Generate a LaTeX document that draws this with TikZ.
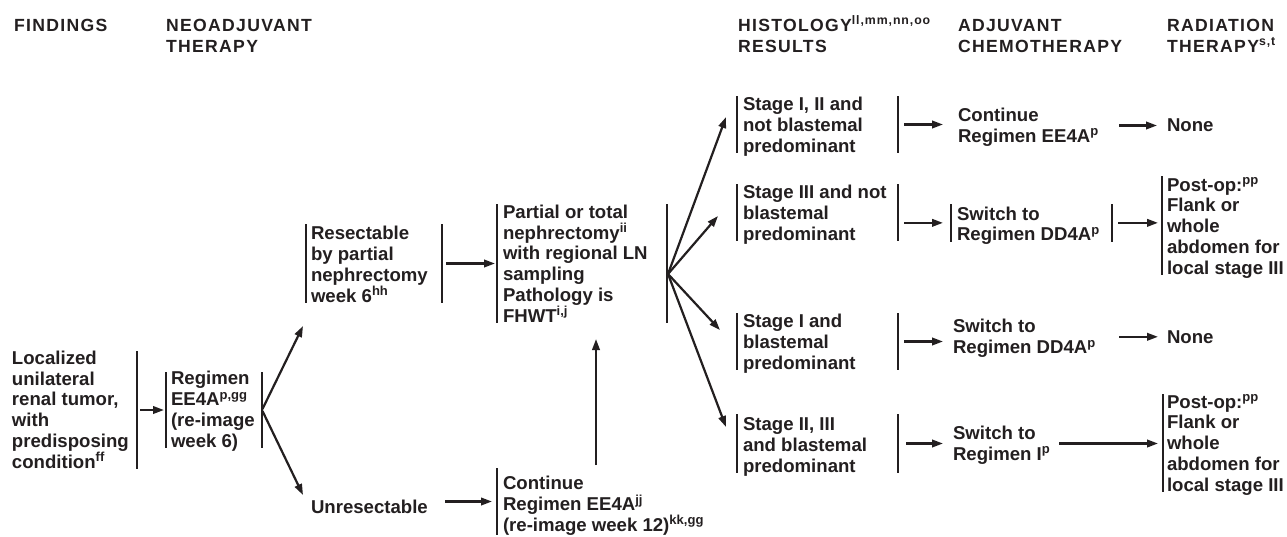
\documentclass[tikz,border=0pt]{standalone}
\usepackage{fontspec}
\setmainfont{Liberation Sans}
\usetikzlibrary{arrows.meta}
\definecolor{ink}{HTML}{231F20}
\newcommand{\bodyfont}{\fontsize{18.6}{20.7}\selectfont\bfseries}
\newcommand{\hdrfont}{\fontsize{17.6}{21}\selectfont\bfseries\addfontfeatures{LetterSpace=7.5}}
\newcommand{\spb}[1]{\textsuperscript{\smash{#1}}}
% gap, width, height above last baseline, depth, lines
\newcommand{\tbx}[5]{\makebox[#2pt][l]{\hspace*{#1pt}\raisebox{0pt}[#3pt][#4pt]{\begin{tabular}[b]{@{}l@{}}#5\end{tabular}}}}
\tikzset{
  bx/.style={inner sep=0pt, outer sep=0pt, anchor=south west, text=ink, font=\bodyfont},
  hd/.style={inner sep=0pt, outer sep=0pt, anchor=south west, text=ink, font=\hdrfont},
  bar/.style={draw=ink, line width=2.3pt},
  arr/.style={draw=ink, line width=2.2pt, -{Triangle[length=11pt,width=7.5pt]}}
}
\begin{document}
\begin{tikzpicture}[x=1pt,y=-1pt]
\useasboundingbox[fill=white] (0,0) rectangle (1287,536);
% headers
\node[hd] (hF) at (14,31) {\tbx{0}{140}{12.6}{0}{FINDINGS}};
\node[hd] (hN) at (166,52) {\tbx{0}{170}{33.6}{0}{NEOADJUVANT\\THERAPY}};
\node[hd] (hH) at (738,52) {\tbx{0}{210}{33.6}{0}{HISTOLOGY\spb{ll,mm,nn,oo}\\RESULTS}};
\node[hd] (hA) at (958,52) {\tbx{0}{190}{33.6}{0}{ADJUVANT\\CHEMOTHERAPY}};
\node[hd] (hR) at (1167,52) {\tbx{0}{120}{33.6}{0}{RADIATION\\THERAPY\spb{s,t}}};
% boxes
\node[bx] (loc) at (12,469) {\tbx{0}{125}{117}{1}{Localized\\unilateral\\renal tumor,\\with\\predisposing\\condition\spb{ff}}};
\node[bx] (reg) at (166,448) {\tbx{5}{96}{75}{1}{Regimen\\EE4A\spb{p,gg}\\(re-image\\week 6)}};
\node[bx] (res) at (306,303) {\tbx{5}{136}{78}{1}{Resectable\\by partial\\nephrectomy\\week 6\spb{hh}}};
\node[bx] (unres) at (311,513) {\tbx{0}{117}{13.3}{0}{Unresectable}};
\node[bx] (part) at (497,323) {\tbx{6}{170}{118}{1}{Partial or total\\nephrectomy\spb{ii}\\with regional LN\\sampling\\Pathology is\\FHWT\spb{i,j}}};
\node[bx] (cont) at (497,535) {\tbx{6}{216}{63}{4}{Continue\\Regimen EE4A\spb{jj}\\(re-image week 12)\spb{kk,gg}}};
\node[bx] (h1) at (737,153) {\tbx{6}{161}{56}{1}{Stage I, II and\\not blastemal\\predominant}};
\node[bx] (h2) at (737,241) {\tbx{6}{161}{56}{1}{Stage III and not\\blastemal\\predominant}};
\node[bx] (h3) at (737,370) {\tbx{6}{161}{56}{1}{Stage I and\\blastemal\\predominant}};
\node[bx] (h4) at (737,473) {\tbx{6}{161}{58}{1}{Stage II, III\\and blastemal\\predominant}};
\node[bx] (a1) at (951,143) {\tbx{7}{161}{34}{1}{Continue\\Regimen EE4A\spb{p}}};
\node[bx] (a2) at (951,241.7) {\tbx{6}{161}{36.7}{1}{Switch to\\Regimen DD4A\spb{p}}};
\node[bx] (a3) at (951,354.3) {\tbx{2}{161}{34}{1}{Switch to\\Regimen DD4A\spb{p}}};
\node[bx] (a4) at (951,461) {\tbx{2}{102}{34}{1}{Switch to\\Regimen I\spb{p}}};
\node[bx] (n1) at (1167,131.6) {\tbx{0}{47}{13.3}{0}{None}};
\node[bx] (n3) at (1167,343.6) {\tbx{0}{47}{13.3}{0}{None}};
\node[bx] (p2) at (1162,275) {\tbx{5}{125}{98}{1}{Post-op:\spb{pp}\\Flank or\\whole\\abdomen for\\local stage III}};
\node[bx] (p4) at (1163,492) {\tbx{4}{124}{97}{1}{Post-op:\spb{pp}\\Flank or\\whole\\abdomen for\\local stage III}};
% bracket bars
\foreach \n in {reg,res,part,cont,h1,h2,h3,h4,a2,p2,p4}
  \draw[bar] (\n.north west) -- (\n.south west);
\foreach \n in {loc,reg,res,part,h1,h2,h3,h4,a2}
  \draw[bar] (\n.north east) -- (\n.south east);
% connectors
\draw[arr, shorten <=3pt, shorten >=2pt] (loc.east) -- (reg.west);
\draw[arr, shorten <=1pt] (reg.east) -- ([xshift=-3pt,yshift=-23pt]res.south west);
\draw[arr, shorten <=1pt] (reg.east) -- ([xshift=-8pt,yshift=4.7pt]unres.north west);
\draw[arr, shorten <=4pt, shorten >=2pt] (res.east) -- (part.west);
\draw[arr, shorten <=17pt, shorten >=5pt] (unres.east |- cont.west) -- (cont.west);
\draw[arr] ([xshift=99pt,yshift=3pt]cont.north west) -- ([xshift=99pt,yshift=-16pt]part.south west);
\coordinate (fan) at ([xshift=1pt,yshift=-10.5pt]part.east);
\draw[arr] (fan) -- ([xshift=-11pt,yshift=7.5pt]h1.west);
\draw[arr] (fan) -- ([xshift=-19pt,yshift=-3.5pt]h2.west);
\draw[arr] (fan) -- ([xshift=-17pt,yshift=11.5pt]h3.west);
\draw[arr] (fan) -- ([xshift=-11pt,yshift=16.5pt]h4.west);
\draw[arr, shorten <=6pt, shorten >=8pt] (h1.east) -- (h1.east -| a1.west);
\draw[arr, shorten <=6pt, shorten >=8pt] (h2.east |- a2.west) -- (a2.west);
\draw[arr, shorten <=6pt, shorten >=8pt] (h3.east) -- (h3.east -| a3.west);
\draw[arr, shorten <=8pt, shorten >=8pt] (h4.east) -- (h4.east -| a4.west);
\draw[arr, shorten <=7pt, shorten >=10pt] (a1.east) -- (a1.east -| n1.west);
\draw[arr, shorten <=6pt, shorten >=4pt] (a2.east) -- (a2.east -| p2.west);
\draw[arr, shorten <=7pt, shorten >=9pt] (a3.east) -- (a3.east -| n3.west);
\draw[arr, shorten <=6pt, shorten >=5pt] (a4.east) -- (a4.east -| p4.west);
\end{tikzpicture}
\end{document}
